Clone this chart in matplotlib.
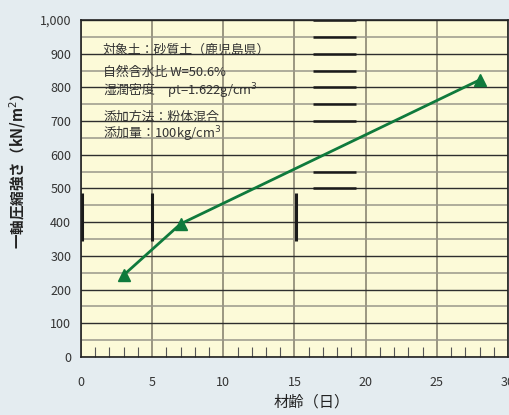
import matplotlib.pyplot as plt
from matplotlib.ticker import MultipleLocator, FuncFormatter

plt.rcParams['font.family'] = ['Noto Sans CJK JP', 'DejaVu Sans']

# 材齢（日）と一軸圧縮強さ
days = [3, 7, 28]
strength = [243, 395, 822]

info_lines = [
    '対象土：砂質土（鹿児島県）',
    '自然含水比 W=50.6%',
    '湿潤密度　ρt=1.622g/cm$^3$',
    '添加方法：粉体混合',
    '添加量：100kg/cm$^3$',
]
info_y = [910, 846, 788, 712, 660]

fig = plt.figure(figsize=(5.09, 4.15), dpi=100)
fig.patch.set_facecolor('#e4ecf0')
ax = fig.add_axes([0.159, 0.1398, 0.839, 0.812])
ax.set_facecolor('#fcfad8')

ax.set_xlim(0, 30)
ax.set_ylim(0, 1000)

# grid
ax.xaxis.set_major_locator(MultipleLocator(5))
ax.xaxis.set_minor_locator(MultipleLocator(1))
ax.yaxis.set_major_locator(MultipleLocator(100))
ax.yaxis.set_minor_locator(MultipleLocator(50))
ax.grid(which='major', axis='y', color='#2e2e2e', lw=1.0, zorder=1)
ax.grid(which='minor', axis='y', color='#9a978a', lw=1.1, zorder=1)
ax.grid(which='major', axis='x', color='#8a8672', lw=1.2, zorder=1)
ax.set_axisbelow(True)

ax.tick_params(axis='x', which='minor', direction='in', length=7, width=0.8,
               color='#555555', top=False)
ax.tick_params(axis='x', which='major', length=0, pad=14, labelsize=9,
               labelcolor='#333333')
ax.tick_params(axis='y', which='both', length=0, pad=7, labelsize=9,
               labelcolor='#333333')
ax.yaxis.set_major_formatter(FuncFormatter(lambda v, p: f'{int(v):,}'))

for s in ax.spines.values():
    s.set_color('#222222')
    s.set_linewidth(1.2)

# scan artefacts: thick dark dashes
ax.hlines([1000, 950, 900, 850, 800, 750, 700, 550, 500], 16.3, 19.3,
          color='#1a1a1a', lw=1.8, zorder=2)
ax.vlines([0.05, 5, 15.1], 345, 487, color='#1a1a1a', lw=2.2, zorder=2)

ax.plot(days, strength, color='#0f7a3c', lw=2, marker='^', ms=9,
        markeredgecolor='#0f7a3c', zorder=5, clip_on=False)

for t, y in zip(info_lines, info_y):
    ax.text(1.55, y, t, fontsize=9.3, color='#333333', va='center', zorder=4)

ax.set_ylabel('一軸圧縮強さ（kN/m$^2$）', fontsize=10.5, color='#222222',
              fontweight='bold')
ax.yaxis.set_label_coords(-0.125, 0.55)
fig.text(0.612, 0.02, '材齢（日）', fontsize=11, color='#222222', ha='center')

plt.savefig('out.png', dpi=100, facecolor=fig.get_facecolor())
